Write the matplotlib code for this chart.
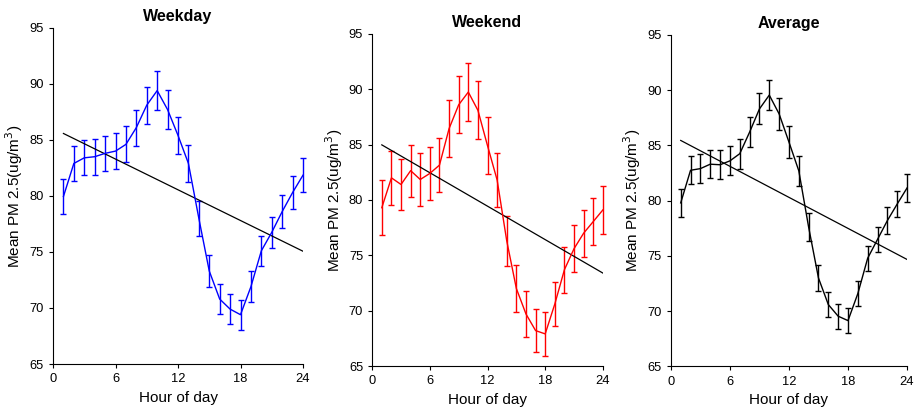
import numpy as np
import matplotlib
matplotlib.use("Agg")
import matplotlib.pyplot as plt

plt.rcParams['font.family'] = ['Liberation Sans', 'DejaVu Sans']

# Hour of day
hours = np.arange(1, 25)

# Weekday mean PM2.5 and standard error
weekday_mean = [79.95, 82.9, 83.4, 83.5, 83.8, 84.0, 84.6, 86.1, 88.1, 89.4, 87.7, 85.4,
                82.9, 78.0, 73.3, 70.8, 69.9, 69.4, 71.9, 75.1, 76.75, 78.6, 80.3, 81.85]
weekday_err = [1.55, 1.56, 1.56, 1.59, 1.59, 1.61, 1.61, 1.61, 1.64, 1.71, 1.71, 1.68,
               1.64, 1.56, 1.41, 1.37, 1.34, 1.34, 1.37, 1.35, 1.41, 1.44, 1.46, 1.53]

# Weekend mean PM2.5 and standard error
weekend_mean = [79.3, 82.0, 81.4, 82.65, 81.85, 82.4, 83.15, 86.45, 88.6, 89.75, 88.1, 84.9,
                81.8, 76.3, 72.0, 69.7, 68.2, 67.9, 70.6, 73.7, 75.6, 77.0, 78.05, 79.1]
weekend_err = [2.46, 2.41, 2.31, 2.35, 2.38, 2.41, 2.47, 2.56, 2.59, 2.62, 2.61, 2.56,
               2.47, 2.28, 2.14, 2.05, 1.98, 1.98, 1.99, 2.07, 2.11, 2.11, 2.14, 2.14]

# Average of all days
average_mean = [79.8, 82.75, 82.9, 83.3, 83.25, 83.6, 84.25, 86.2, 88.3, 89.55, 87.85, 85.3,
                82.7, 77.6, 73.0, 70.6, 69.55, 69.15, 71.6, 74.8, 76.5, 78.2, 79.7, 81.15]
average_err = [1.28, 1.28, 1.28, 1.28, 1.3, 1.31, 1.36, 1.36, 1.4, 1.39, 1.43, 1.43,
               1.33, 1.28, 1.18, 1.15, 1.13, 1.1, 1.1, 1.12, 1.16, 1.2, 1.22, 1.28]

titles = ['Weekday', 'Weekend', 'Average']
colors = ['#0000ff', '#ff0000', '#000000']
means = [weekday_mean, weekend_mean, average_mean]
errs = [weekday_err, weekend_err, average_err]

# Axes rectangles (left, bottom, width, height)
positions = [
    [0.0577, 0.1186, 0.2720, 0.8140],
    [0.4050, 0.1138, 0.2510, 0.8040],
    [0.7300, 0.1126, 0.2570, 0.8030],
]

fig = plt.figure(figsize=(9.19, 4.13), dpi=100)

for pos, title, c, m, e in zip(positions, titles, colors, means, errs):
    ax = fig.add_axes(pos)

    # Mean with error bars
    lines = ax.errorbar(hours, m, yerr=e, color=c, linewidth=1.0, elinewidth=1.0,
                        capsize=2.2, capthick=1.0)
    for art in lines.lines[1] + lines.lines[2]:
        art.set_clip_on(False)

    # Linear trend line
    slope, intercept = np.polyfit(hours, m, 1)
    ax.plot(hours, slope * hours + intercept, color='black', linewidth=0.9)

    ax.set_xlim(0, 24)
    ax.set_ylim(65, 95)
    ax.set_xticks([0, 6, 12, 18, 24])
    ax.set_yticks([65, 70, 75, 80, 85, 90, 95])
    ax.tick_params(direction='out', length=3, width=0.8, labelsize=9.3)

    ax.spines['top'].set_visible(False)
    ax.spines['right'].set_visible(False)
    for s in ['left', 'bottom']:
        ax.spines[s].set_linewidth(0.8)

    ax.set_title(title, fontsize=11.5, fontweight='bold', pad=5)
    ax.set_xlabel('Hour of day', fontsize=11, labelpad=4)
    ax.set_ylabel('Mean PM 2.5(ug/m$^3$)', fontsize=11, labelpad=3)

plt.savefig('out.png', dpi=100)
